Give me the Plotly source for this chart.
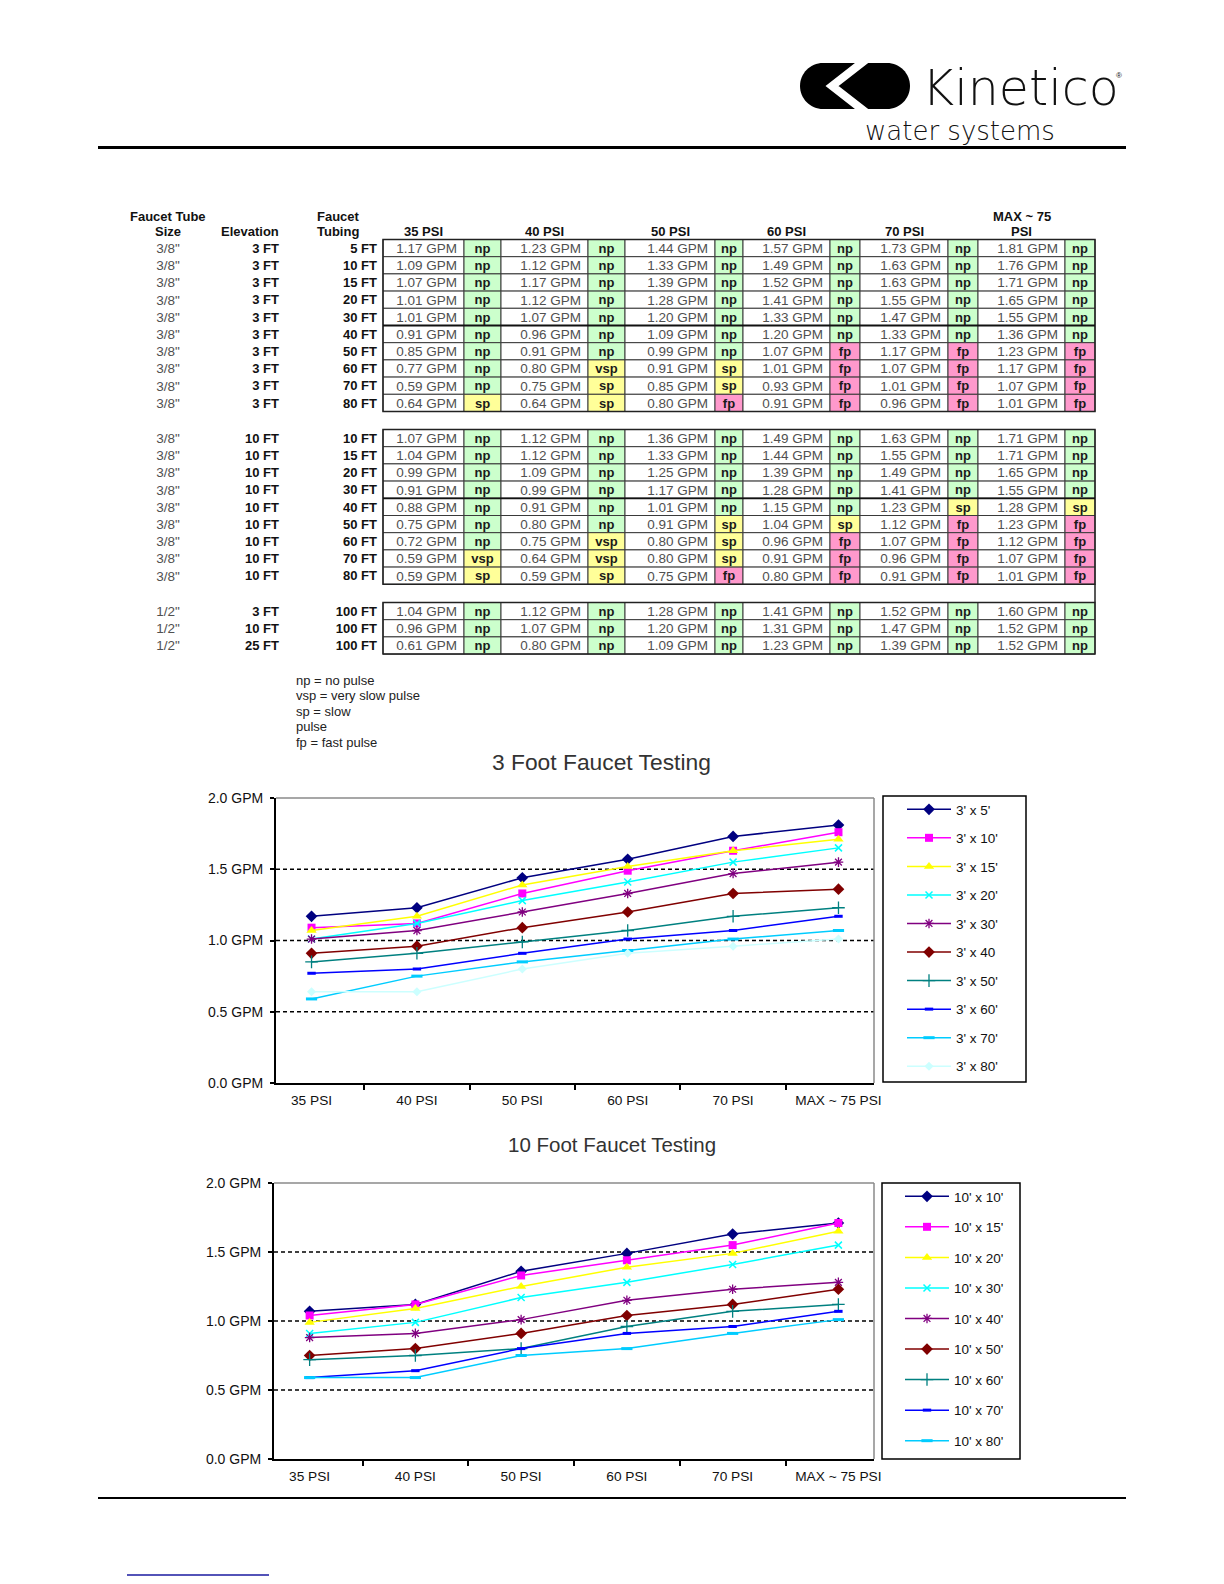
import plotly.graph_objects as go

W, H = 1224, 1584
ARIAL = "Arial, Liberation Sans, sans-serif"

# ---------------- data ----------------
pressures = ["35 PSI", "40 PSI", "50 PSI", "60 PSI", "70 PSI", "MAX ~ 75 PSI"]
table_headers = ["35 PSI", "40 PSI", "50 PSI", "60 PSI", "70 PSI", "MAX ~ 75<br>PSI"]

g1_size = ['3/8"'] * 10
g1_elev = ["3 FT"] * 10
g1_tubing = ["5 FT", "10 FT", "15 FT", "20 FT", "30 FT", "40 FT", "50 FT", "60 FT", "70 FT", "80 FT"]
g1_flow = [
    [1.17, 1.23, 1.44, 1.57, 1.73, 1.81],
    [1.09, 1.12, 1.33, 1.49, 1.63, 1.76],
    [1.07, 1.17, 1.39, 1.52, 1.63, 1.71],
    [1.01, 1.12, 1.28, 1.41, 1.55, 1.65],
    [1.01, 1.07, 1.20, 1.33, 1.47, 1.55],
    [0.91, 0.96, 1.09, 1.20, 1.33, 1.36],
    [0.85, 0.91, 0.99, 1.07, 1.17, 1.23],
    [0.77, 0.80, 0.91, 1.01, 1.07, 1.17],
    [0.59, 0.75, 0.85, 0.93, 1.01, 1.07],
    [0.64, 0.64, 0.80, 0.91, 0.96, 1.01],
]
g1_pulse = [
    ["np", "np", "np", "np", "np", "np"],
    ["np", "np", "np", "np", "np", "np"],
    ["np", "np", "np", "np", "np", "np"],
    ["np", "np", "np", "np", "np", "np"],
    ["np", "np", "np", "np", "np", "np"],
    ["np", "np", "np", "np", "np", "np"],
    ["np", "np", "np", "fp", "fp", "fp"],
    ["np", "vsp", "sp", "fp", "fp", "fp"],
    ["np", "sp", "sp", "fp", "fp", "fp"],
    ["sp", "sp", "fp", "fp", "fp", "fp"],
]

g2_size = ['3/8"'] * 9
g2_elev = ["10 FT"] * 9
g2_tubing = ["10 FT", "15 FT", "20 FT", "30 FT", "40 FT", "50 FT", "60 FT", "70 FT", "80 FT"]
g2_flow = [
    [1.07, 1.12, 1.36, 1.49, 1.63, 1.71],
    [1.04, 1.12, 1.33, 1.44, 1.55, 1.71],
    [0.99, 1.09, 1.25, 1.39, 1.49, 1.65],
    [0.91, 0.99, 1.17, 1.28, 1.41, 1.55],
    [0.88, 0.91, 1.01, 1.15, 1.23, 1.28],
    [0.75, 0.80, 0.91, 1.04, 1.12, 1.23],
    [0.72, 0.75, 0.80, 0.96, 1.07, 1.12],
    [0.59, 0.64, 0.80, 0.91, 0.96, 1.07],
    [0.59, 0.59, 0.75, 0.80, 0.91, 1.01],
]
g2_pulse = [
    ["np", "np", "np", "np", "np", "np"],
    ["np", "np", "np", "np", "np", "np"],
    ["np", "np", "np", "np", "np", "np"],
    ["np", "np", "np", "np", "np", "np"],
    ["np", "np", "np", "np", "sp", "sp"],
    ["np", "np", "sp", "sp", "fp", "fp"],
    ["np", "vsp", "sp", "fp", "fp", "fp"],
    ["vsp", "vsp", "sp", "fp", "fp", "fp"],
    ["sp", "sp", "fp", "fp", "fp", "fp"],
]

g3_size = ['1/2"'] * 3
g3_elev = ["3 FT", "10 FT", "25 FT"]
g3_tubing = ["100 FT"] * 3
g3_flow = [
    [1.04, 1.12, 1.28, 1.41, 1.52, 1.60],
    [0.96, 1.07, 1.20, 1.31, 1.47, 1.52],
    [0.61, 0.80, 1.09, 1.23, 1.39, 1.52],
]
g3_pulse = [["np"] * 6, ["np"] * 6, ["np"] * 6]

notes = ["np = no pulse", "vsp = very slow pulse", "sp = slow", "pulse", "fp = fast pulse"]

chart1_names = ["3' x 5'", "3' x 10'", "3' x 15'", "3' x 20'", "3' x 30'",
                "3' x 40", "3' x 50'", "3' x 60'", "3' x 70'", "3' x 80'"]
chart2_names = ["10' x 10'", "10' x 15'", "10' x 20'", "10' x 30'", "10' x 40'",
                "10' x 50'", "10' x 60'", "10' x 70'", "10' x 80'"]
chart1_values = g1_flow
chart2_values = g2_flow

y_ticks = [0.0, 0.5, 1.0, 1.5, 2.0]

# ---------------- styles ----------------
series_styles = [
    dict(color="#000080", symbol="diamond", size=9, lw=0),
    dict(color="#FF00FF", symbol="square", size=8, lw=0),
    dict(color="#FFFF00", symbol="triangle-up", size=9, lw=0),
    dict(color="#00FFFF", symbol="x-thin-open", size=7, lw=1.5),
    dict(color="#800080", symbol="asterisk-open", size=8, lw=1.3),
    dict(color="#800000", symbol="diamond", size=9, lw=0),
    dict(color="#008080", symbol="cross-thin-open", size=9, lw=1.3),
    dict(color="#0000FF", symbol="line-ew-open", size=6, lw=3),
    dict(color="#00CCFF", symbol="line-ew-open", size=8, lw=3),
    dict(color="#CCFFFF", symbol="diamond", size=7, lw=0),
]
pulse_fill = {"np": "#CCFFCC", "vsp": "#FFFF99", "sp": "#FFFF99", "fp": "#FF99CC"}

col_edges = [383, 464, 501, 588, 625, 715, 743, 830, 860, 948, 978, 1065, 1095]
group_tops = [239.5, 429.5, 602.5]
row_h = 17.2
text_dy = 1.5
x_size, x_elev, x_tub = 168, 279, 377

fig = go.Figure()

# ---------------- charts ----------------
for names, values, xa, ya, leg in [(chart1_names, chart1_values, "x", "y", "legend"),
                                   (chart2_names, chart2_values, "x2", "y2", "legend2")]:
    for i, (nm, vals) in enumerate(zip(names, values)):
        st = series_styles[i]
        mk = dict(symbol=st["symbol"], size=st["size"], color=st["color"])
        if st["lw"]:
            mk["line"] = dict(color=st["color"], width=st["lw"])
        fig.add_trace(go.Scatter(
            x=pressures, y=vals, name=nm, mode="lines+markers",
            line=dict(color=st["color"], width=1.5), marker=mk,
            xaxis=xa, yaxis=ya, legend=leg, legendgroup=f"{leg}_{i}",
            hoverinfo="skip"))

# ---------------- table ----------------
txt = {"gpm": ([], [], []), "code": ([], [], []), "size": ([], [], []),
       "elev": ([], [], []), "tub": ([], [], [])}
shapes = []
groups = [(g1_size, g1_elev, g1_tubing, g1_flow, g1_pulse),
          (g2_size, g2_elev, g2_tubing, g2_flow, g2_pulse),
          (g3_size, g3_elev, g3_tubing, g3_flow, g3_pulse)]
for gi, (sz, el, tb, fl, pu) in enumerate(groups):
    top = group_tops[gi]
    for r in range(len(fl)):
        y0 = top + r * row_h
        y1 = y0 + row_h
        yc = (y0 + y1) / 2 + text_dy
        txt["size"][0].append(x_size); txt["size"][1].append(yc); txt["size"][2].append(sz[r])
        txt["elev"][0].append(x_elev); txt["elev"][1].append(yc); txt["elev"][2].append(el[r])
        txt["tub"][0].append(x_tub); txt["tub"][1].append(yc); txt["tub"][2].append(tb[r])
        for c in range(6):
            xa0, xa1, xb1 = col_edges[2 * c], col_edges[2 * c + 1], col_edges[2 * c + 2]
            shapes.append(dict(type="rect", xref="x3", yref="y3", x0=xa0, x1=xa1, y0=y0, y1=y1,
                               line=dict(color="#3a3a3a", width=1), fillcolor="white", layer="below"))
            shapes.append(dict(type="rect", xref="x3", yref="y3", x0=xa1, x1=xb1, y0=y0, y1=y1,
                               line=dict(color="#3a3a3a", width=1),
                               fillcolor=pulse_fill[pu[r][c]], layer="below"))
            txt["gpm"][0].append(xa1 - 7); txt["gpm"][1].append(yc)
            txt["gpm"][2].append(f"{fl[r][c]:.2f} GPM")
            txt["code"][0].append((xa1 + xb1) / 2); txt["code"][1].append(yc)
            txt["code"][2].append(pu[r][c])
    bottom = top + len(fl) * row_h
    shapes.append(dict(type="rect", xref="x3", yref="y3", x0=col_edges[0], x1=col_edges[-1],
                       y0=top, y1=bottom, line=dict(color="#222", width=1.5), layer="below"))
shapes.append(dict(type="line", xref="x3", yref="y3", x0=col_edges[0], x1=col_edges[-1],
                   y0=group_tops[0] + 5 * row_h, y1=group_tops[0] + 5 * row_h,
                   line=dict(color="#111", width=1.8), layer="below"))
shapes.append(dict(type="line", xref="x3", yref="y3", x0=col_edges[0], x1=col_edges[-1],
                   y0=group_tops[1] + 4 * row_h, y1=group_tops[1] + 4 * row_h,
                   line=dict(color="#111", width=1.8), layer="below"))
shapes.append(dict(type="line", xref="x3", yref="y3", x0=col_edges[-1], x1=col_edges[-1],
                   y0=group_tops[1] + 9 * row_h, y1=group_tops[2],
                   line=dict(color="#222", width=1.5), layer="below"))

styles_txt = {
    "gpm": ("middle left", 13.5, "#505050", "normal"),
    "code": ("middle center", 13, "#1a1a1a", "bold"),
    "size": ("middle center", 13.5, "#505050", "normal"),
    "elev": ("middle left", 13, "#111111", "bold"),
    "tub": ("middle left", 13, "#111111", "bold"),
}
for k, (xs, ys, ts) in txt.items():
    pos, fs, colr, wt = styles_txt[k]
    fig.add_trace(go.Scatter(x=xs, y=ys, text=ts, mode="text", textposition=pos,
                             textfont=dict(family=ARIAL, size=fs, color=colr, weight=wt),
                             xaxis="x3", yaxis="y3", showlegend=False, hoverinfo="skip",
                             cliponaxis=False))

annotations = []


def ann(x, y, text, size=13, color="#111", weight="normal", xanchor="center",
        family=ARIAL, yanchor="middle"):
    annotations.append(dict(x=x, y=y, xref="x3", yref="y3", text=text, showarrow=False,
                            xanchor=xanchor, yanchor=yanchor,
                            font=dict(family=family, size=size, color=color, weight=weight)))


# table headers
ann(168, 216, "Faucet Tube", weight="bold")
ann(168, 231.5, "Size", weight="bold")
ann(250, 231.5, "Elevation", weight="bold")
ann(315, 216, "Faucet", weight="bold", xanchor="left")
ann(315, 231.5, "Tubing", weight="bold", xanchor="left")
for c, hdr in enumerate(table_headers):
    xc = (col_edges[2 * c] + col_edges[2 * c + 1]) / 2
    parts = hdr.split("<br>")
    if len(parts) == 1:
        ann(xc, 231.5, parts[0], weight="bold")
    else:
        ann(xc, 216, parts[0], weight="bold")
        ann(xc, 231.5, parts[1], weight="bold")

# notes
for i, line in enumerate(notes):
    ann(294, 680 + i * 15.5, line, size=13, color="#222", xanchor="left")

# chart titles
ann(601, 762, "3 Foot Faucet Testing", size=22.8, color="#333")
ann(612, 1144, "10 Foot Faucet Testing", size=20.5, color="#333")

# logo text
ann(920, 88, "Kinetico", size=49, color="#111", xanchor="left", family="DejaVu Sans", weight=300)
ann(1114, 75, "®", size=8, color="#111", xanchor="left")
ann(960, 131, "water systems", size=26, color="#111", family="DejaVu Sans", weight=300)

# logo shape
k = 12.7
logo_path = (f"M 823,63 L 887,63 C {887+k},63 910,{86-k} 910,86 C 910,{86+k} {887+k},109 887,109 "
             f"L 823,109 C {823-k},109 800,{86+k} 800,86 C 800,{86-k} {823-k},63 823,63 Z")
shapes.append(dict(type="path", xref="x3", yref="y3", path=logo_path,
                   fillcolor="black", line=dict(width=0), layer="above"))
shapes.append(dict(type="path", xref="x3", yref="y3", path="M 868,58 L 832,86 L 868,114",
                   line=dict(color="white", width=8), layer="above"))

# page rules
shapes.append(dict(type="line", xref="x3", yref="y3", x0=98, x1=1126, y0=147.5, y1=147.5,
                   line=dict(color="black", width=3)))
shapes.append(dict(type="line", xref="x3", yref="y3", x0=98, x1=1126, y0=1498, y1=1498,
                   line=dict(color="black", width=2)))
shapes.append(dict(type="line", xref="x3", yref="y3", x0=127, x1=269, y0=1575, y1=1575,
                   line=dict(color="#1a1aa0", width=1.5)))

# legend boxes
shapes.append(dict(type="rect", xref="x3", yref="y3", x0=883, x1=1026, y0=796, y1=1082,
                   line=dict(color="black", width=1.5), layer="below"))
shapes.append(dict(type="rect", xref="x3", yref="y3", x0=882, x1=1020, y0=1183, y1=1459,
                   line=dict(color="black", width=1.5), layer="below"))

# plot frames (top / right grey) and dashed gridlines
for xr, yr in [("x", "y"), ("x2", "y2")]:
    shapes.append(dict(type="line", xref=f"{xr} domain", yref=f"{yr} domain", x0=0, x1=1, y0=1, y1=1,
                       line=dict(color="#8a8a8a", width=1.5), layer="above"))
    shapes.append(dict(type="line", xref=f"{xr} domain", yref=f"{yr} domain", x0=1, x1=1, y0=0, y1=1,
                       line=dict(color="#8a8a8a", width=1.5), layer="above"))
    for v in y_ticks[1:-1]:
        shapes.append(dict(type="line", xref=f"{xr} domain", yref=yr, x0=0, x1=1, y0=v, y1=v,
                           line=dict(color="black", width=1.4, dash="4px,3px"), layer="below"))


def xaxis_cfg(x0, x1, anchor):
    return dict(domain=[x0 / W, x1 / W], anchor=anchor, type="category",
                categoryorder="array", categoryarray=pressures, automargin=False,
                tickson="boundaries", ticks="outside", ticklen=5, tickcolor="black", tickwidth=1.5,
                showline=True, linecolor="black", linewidth=2, showgrid=False, zeroline=False,
                ticklabelstandoff=4,
                tickfont=dict(family=ARIAL, size=13.7, color="#111"), fixedrange=True)


def yaxis_cfg(top, bottom, anchor):
    return dict(domain=[1 - bottom / H, 1 - top / H], anchor=anchor, range=[0, 2],
                tickvals=y_ticks, ticktext=[f"{v:.1f} GPM" for v in y_ticks], automargin=False,
                ticks="outside", ticklen=4, tickcolor="black", tickwidth=1.5,
                showline=True, linecolor="black", linewidth=2, showgrid=False, zeroline=False,
                ticklabelstandoff=4,
                tickfont=dict(family=ARIAL, size=14, color="#111"), fixedrange=True)


legend_common = dict(bgcolor="rgba(0,0,0,0)", borderwidth=0, xanchor="left", yanchor="top",
                     font=dict(family=ARIAL, size=13.5, color="#111"), itemwidth=44,
                     traceorder="grouped", itemclick=False, itemdoubleclick=False)

fig.update_layout(
    width=W, height=H, margin=dict(l=0, r=0, t=0, b=0, pad=0, autoexpand=False),
    autosize=False,
    paper_bgcolor="white", plot_bgcolor="rgba(0,0,0,0)",
    xaxis=xaxis_cfg(276, 874, "y"),
    yaxis=yaxis_cfg(798, 1083, "x"),
    xaxis2=xaxis_cfg(274, 874, "y2"),
    yaxis2=yaxis_cfg(1183, 1459, "x2"),
    xaxis3=dict(domain=[0, 1], range=[0, W], visible=False, anchor="y3", fixedrange=True,
                automargin=False),
    yaxis3=dict(domain=[0, 1], range=[H, 0], visible=False, anchor="x3", fixedrange=True,
                automargin=False),
    legend=dict(x=902 / W, y=1 - 794 / H, tracegroupgap=8, **legend_common),
    legend2=dict(x=900 / W, y=1 - 1181 / H, tracegroupgap=10, **legend_common),
    shapes=shapes, annotations=annotations, showlegend=True,
)

fig.write_html("out.html", config={"displayModeBar": False, "responsive": False},
               post_script="document.body.style.margin='0px';"
                           "document.documentElement.style.overflow='hidden';")
